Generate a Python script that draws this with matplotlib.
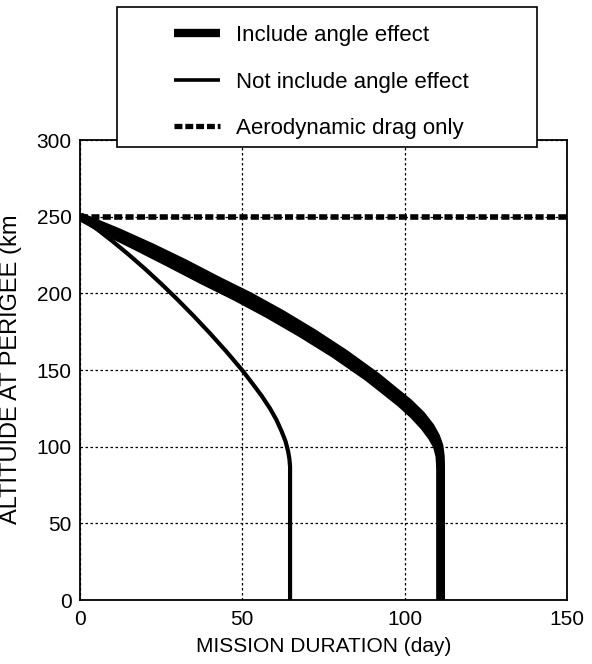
import matplotlib
matplotlib.use('Agg')
import matplotlib.pyplot as plt
from matplotlib.lines import Line2D
from matplotlib.patches import Rectangle
from matplotlib.transforms import Bbox

plt.rcParams['font.family'] = ['Liberation Sans', 'DejaVu Sans']

# ── Data ────────────────────────────────────────────────────────────
# include angle effect: drawn as a narrow band (lower / upper day bound)
thick_alt = [250, 240, 230, 219.5, 208.5, 198, 186.5, 174, 160.5, 145.5,
             137, 128.5, 120.5, 113, 106.5, 100.5, 94, 85, 0]
thick_lo = [0, 8.5, 18, 27.75, 37.75, 47.75, 57.9, 68.1, 78.35, 88.55,
            93.65, 98.7, 102.85, 106.1, 108.4, 110.0, 110.8, 111.1, 111.1]
thick_hi = [0, 11.5, 22, 32.25, 42.25, 52.25, 62.1, 71.9, 81.65, 91.45,
            96.35, 101.3, 105.15, 107.9, 109.6, 110.6, 111.0, 111.1, 111.1]

# not include angle effect
thin_days = [0, 5, 10, 15, 20, 25, 30, 35, 40, 45, 50, 53, 56, 58.5, 60.5,
             62.1, 63.3, 64.1, 64.5, 64.7, 64.7]
thin_alt = [250, 242.25, 234, 225.25, 216, 206.25, 196, 185.25, 174, 162.25,
            149.75, 141.5, 133, 125, 117.5, 110, 103.5, 97, 92, 87, 0]

# aerodynamic drag only
drag_days = [0, 150]
drag_alt = [250, 250]

x_ticks = [0, 50, 100, 150]
y_ticks = [0, 50, 100, 150, 200, 250, 300]
labels = ['Include angle effect', 'Not include angle effect', 'Aerodynamic drag only']

# ── Figure ──────────────────────────────────────────────────────────
fig = plt.figure(figsize=(5.92, 6.64), dpi=100)
ax = fig.add_axes([80 / 592, 64 / 664, 487 / 592, 460 / 664])

ax.fill_betweenx(thick_alt, thick_lo, thick_hi, color='black', lw=0, zorder=3)
for edge in (thick_lo, thick_hi):
    ax.plot(edge, thick_alt, color='black', lw=6.2, solid_joinstyle='round',
            solid_capstyle='butt', zorder=3)
ax.plot(thin_days, thin_alt, color='black', lw=3.0, solid_joinstyle='round',
        solid_capstyle='butt', zorder=3)
ax.plot(drag_days, drag_alt, color='black', lw=4.0, dashes=(1.45, 0.6),
        dash_capstyle='butt', zorder=4)

ax.set_xlim(0, 150)
ax.set_ylim(0, 300)
ax.set_xticks(x_ticks)
ax.set_yticks(y_ticks)
ax.tick_params(length=0, labelsize=15)
ax.tick_params(axis='x', pad=7)
ax.tick_params(axis='y', pad=6)
ax.grid(True, color='black', lw=0.9, dashes=(2, 2))
ax.set_axisbelow(True)
for s in ax.spines.values():
    s.set_linewidth(1.3)

ax.set_xlabel('MISSION DURATION (day)', fontsize=15, labelpad=6)
ax.set_ylabel('ALTITUIDE AT PERIGEE (km)', fontsize=17)
ax.yaxis.set_label_coords(-0.119, 0.511)
# the top of the label is cut off in the original
ylab = ax.yaxis.label
ylab.set_clip_box(Bbox([[0, 0], [80, 664 - 215]]))
ylab.set_clip_on(True)

# ── Legend box sitting over the top of the axes ─────────────────────
fig.add_artist(Rectangle((117 / 592, (664 - 147) / 664), 420 / 592, 140 / 664,
                         transform=fig.transFigure, facecolor='white',
                         edgecolor='black', lw=1.2, zorder=3))
handles = [
    Line2D([0], [0], color='black', lw=6, solid_capstyle='butt'),
    Line2D([0], [0], color='black', lw=2.6, solid_capstyle='butt'),
    Line2D([0], [0], color='black', lw=3.8, dashes=(1.5, 0.55), dash_capstyle='butt'),
]
leg = fig.legend(handles, labels, loc='upper left', frameon=False, fontsize=16,
                 bbox_to_anchor=(163 / 592, (664 - 14) / 664), borderpad=0,
                 handlelength=2.05, handletextpad=0.72, labelspacing=1.15)
leg.set_zorder(5)

fig.savefig('out.png', dpi=100, facecolor='white')
